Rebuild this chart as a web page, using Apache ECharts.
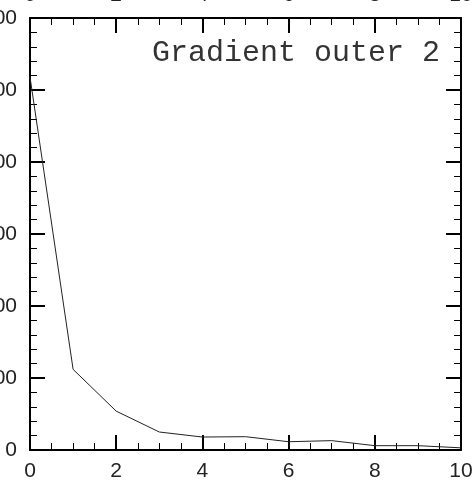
<!DOCTYPE html>
<html>
<head>
<meta charset="utf-8">
<script src="https://cdn.jsdelivr.net/npm/echarts@6/dist/echarts.min.js"></script>
<style>
  html, body { margin: 0; padding: 0; background: #fff; }
  #chart { width: 473px; height: 482px; }
</style>
</head>
<body>
<div id="chart"></div>
<script>
// 数据
const xValues = [0, 1, 2, 3, 4, 5, 6, 7, 8, 9, 10];
const yValues = [518, 112, 54, 25, 18, 18.5, 11.5, 13, 6, 6, 3];
const titleText = 'Gradient outer 2';

const chartDom = document.getElementById('chart');
const myChart = echarts.init(chartDom);

const labelFont = { fontFamily: 'Liberation Sans', fontSize: 21, color: '#222' };

// 公共的坐标轴样式：边框粗线，刻度朝内
function frameAxis(extra) {
  return Object.assign({
    type: 'value',
    axisLine: { show: true, onZero: false, lineStyle: { color: '#000', width: 2 } },
    axisTick: { show: true, inside: true, length: 15, lineStyle: { color: '#000', width: 2 } },
    splitLine: { show: false },
    minorSplitLine: { show: false }
  }, extra);
}

const option = {
  animation: false,
  backgroundColor: '#fff',
  title: {
    text: titleText,
    right: 28,
    top: 33,
    textStyle: { fontFamily: 'Liberation Mono', fontSize: 30, fontWeight: 'normal', color: '#333' }
  },
  // 标签允许超出画布（原图左侧/上方标签被裁掉）
  grid: { left: 30, right: 12, top: 18, bottom: 32, containLabel: false, outerBoundsMode: 'none' },
  xAxis: [
    frameAxis({
      position: 'bottom', min: 0, max: 10, interval: 2,
      minorTick: { show: true, splitNumber: 4, length: 7, lineStyle: { color: '#000', width: 1 } },
      axisLabel: Object.assign({ margin: 11 }, labelFont)
    }),
    frameAxis({
      position: 'top', min: 0, max: 10, interval: 2,
      minorTick: { show: true, splitNumber: 4, length: 7, lineStyle: { color: '#000', width: 1 } },
      axisLabel: Object.assign({ margin: 12 }, labelFont)
    })
  ],
  yAxis: [
    frameAxis({
      position: 'left', min: 0, max: 600, interval: 100,
      minorTick: { show: true, splitNumber: 5, length: 7, lineStyle: { color: '#000', width: 1 } },
      axisLabel: Object.assign({ margin: 13 }, labelFont)
    }),
    frameAxis({
      position: 'right', min: 0, max: 600, interval: 100,
      minorTick: { show: true, splitNumber: 5, length: 7, lineStyle: { color: '#000', width: 1 } },
      axisLabel: { show: false }
    })
  ],
  series: [{
    type: 'line',
    data: xValues.map((x, i) => [x, yValues[i]]),
    showSymbol: false,
    lineStyle: { color: '#222', width: 1 }
  }]
};

myChart.setOption(option);
</script>
</body>
</html>
